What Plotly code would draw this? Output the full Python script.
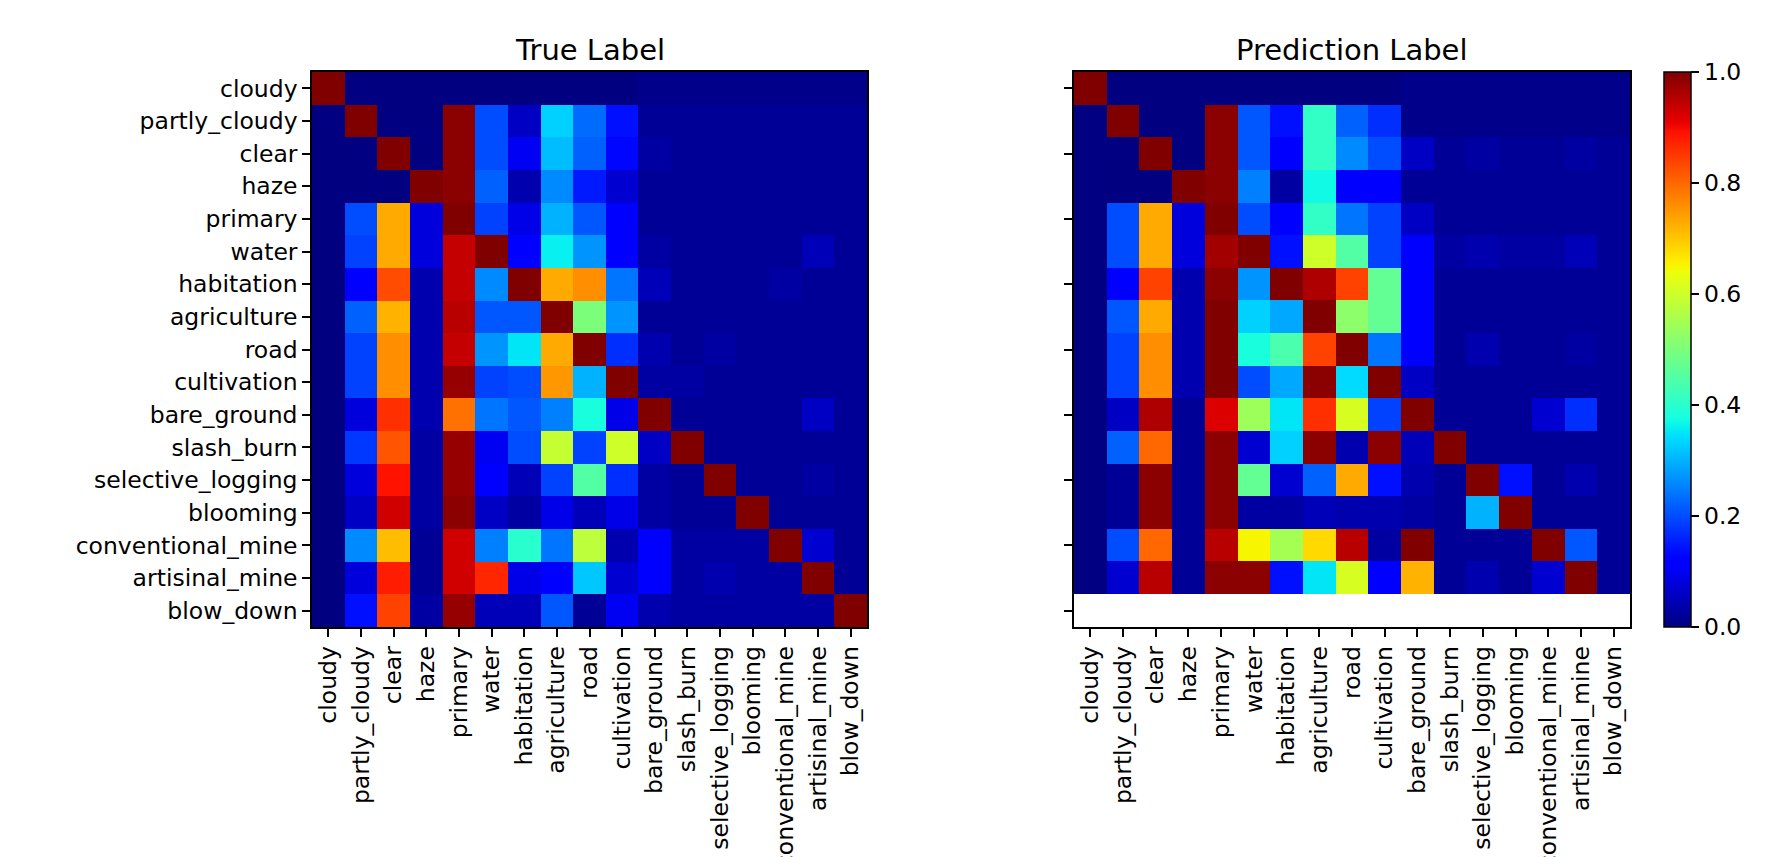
import numpy as np
import plotly.graph_objects as go

labels = ["cloudy", "partly_cloudy", "clear", "haze", "primary", "water", "habitation",
          "agriculture", "road", "cultivation", "bare_ground", "slash_burn",
          "selective_logging", "blooming", "conventional_mine", "artisinal_mine", "blow_down"]

# ---- True Label matrix (rows = labels, columns = labels) ----
true_cloudy            = [1.00, 0.00, 0.00, 0.00, 0.00, 0.00, 0.00, 0.00, 0.00, 0.00, 0.01, 0.01, 0.01, 0.01, 0.01, 0.01, 0.01]
true_partly_cloudy     = [0.00, 1.00, 0.00, 0.00, 0.99, 0.20, 0.06, 0.33, 0.23, 0.14, 0.02, 0.02, 0.02, 0.02, 0.02, 0.02, 0.02]
true_clear             = [0.00, 0.00, 1.00, 0.00, 0.99, 0.20, 0.10, 0.31, 0.22, 0.13, 0.03, 0.02, 0.02, 0.02, 0.02, 0.02, 0.02]
true_haze              = [0.00, 0.00, 0.00, 1.00, 0.99, 0.22, 0.04, 0.26, 0.15, 0.07, 0.02, 0.02, 0.02, 0.02, 0.02, 0.02, 0.02]
true_primary           = [0.00, 0.20, 0.73, 0.08, 1.00, 0.19, 0.09, 0.30, 0.21, 0.12, 0.02, 0.02, 0.02, 0.02, 0.02, 0.02, 0.02]
true_water             = [0.00, 0.19, 0.73, 0.08, 0.94, 1.00, 0.11, 0.36, 0.27, 0.12, 0.03, 0.02, 0.02, 0.02, 0.02, 0.05, 0.02]
true_habitation        = [0.00, 0.11, 0.83, 0.04, 0.94, 0.26, 1.00, 0.73, 0.76, 0.24, 0.05, 0.02, 0.02, 0.02, 0.03, 0.02, 0.02]
true_agriculture       = [0.00, 0.22, 0.72, 0.04, 0.95, 0.21, 0.21, 1.00, 0.50, 0.27, 0.02, 0.02, 0.02, 0.02, 0.02, 0.02, 0.02]
true_road              = [0.00, 0.19, 0.76, 0.04, 0.94, 0.27, 0.35, 0.73, 1.00, 0.17, 0.04, 0.02, 0.03, 0.02, 0.02, 0.02, 0.02]
true_cultivation       = [0.00, 0.19, 0.76, 0.04, 0.98, 0.19, 0.20, 0.75, 0.30, 1.00, 0.03, 0.03, 0.02, 0.02, 0.02, 0.02, 0.02]
true_bare_ground       = [0.00, 0.08, 0.86, 0.04, 0.79, 0.24, 0.21, 0.25, 0.38, 0.09, 1.00, 0.02, 0.02, 0.02, 0.02, 0.06, 0.02]
true_slash_burn        = [0.00, 0.18, 0.82, 0.03, 0.98, 0.10, 0.20, 0.59, 0.19, 0.60, 0.06, 1.00, 0.02, 0.02, 0.02, 0.02, 0.02]
true_selective_logging = [0.00, 0.08, 0.89, 0.03, 0.98, 0.11, 0.05, 0.19, 0.45, 0.17, 0.03, 0.02, 1.00, 0.02, 0.02, 0.03, 0.02]
true_blooming          = [0.00, 0.06, 0.93, 0.03, 0.99, 0.06, 0.03, 0.09, 0.05, 0.09, 0.03, 0.02, 0.02, 1.00, 0.02, 0.02, 0.02]
true_conventional_mine = [0.00, 0.26, 0.71, 0.02, 0.93, 0.25, 0.40, 0.24, 0.58, 0.04, 0.11, 0.03, 0.03, 0.03, 1.00, 0.07, 0.02]
true_artisinal_mine    = [0.00, 0.08, 0.88, 0.02, 0.93, 0.87, 0.09, 0.11, 0.32, 0.07, 0.11, 0.03, 0.04, 0.03, 0.03, 1.00, 0.02]
true_blow_down         = [0.00, 0.14, 0.84, 0.03, 0.98, 0.05, 0.05, 0.21, 0.02, 0.10, 0.04, 0.03, 0.03, 0.03, 0.03, 0.03, 1.00]

# ---- Prediction Label matrix (blow_down row has no predictions -> blank) ----
pred_cloudy            = [1.00, 0.00, 0.00, 0.00, 0.00, 0.00, 0.00, 0.00, 0.00, 0.00, 0.01, 0.01, 0.01, 0.01, 0.01, 0.01, 0.01]
pred_partly_cloudy     = [0.00, 1.00, 0.00, 0.00, 0.99, 0.21, 0.14, 0.41, 0.22, 0.17, 0.01, 0.01, 0.01, 0.01, 0.01, 0.01, 0.01]
pred_clear             = [0.00, 0.00, 1.00, 0.00, 0.99, 0.21, 0.12, 0.41, 0.26, 0.20, 0.06, 0.02, 0.03, 0.02, 0.02, 0.03, 0.02]
pred_haze              = [0.00, 0.00, 0.00, 1.00, 0.99, 0.25, 0.03, 0.37, 0.12, 0.11, 0.02, 0.02, 0.02, 0.02, 0.02, 0.02, 0.02]
pred_primary           = [0.00, 0.20, 0.73, 0.08, 1.00, 0.20, 0.11, 0.41, 0.24, 0.19, 0.06, 0.02, 0.02, 0.02, 0.02, 0.02, 0.02]
pred_water             = [0.00, 0.20, 0.73, 0.08, 0.97, 1.00, 0.14, 0.60, 0.45, 0.19, 0.11, 0.03, 0.04, 0.03, 0.03, 0.05, 0.02]
pred_habitation        = [0.00, 0.11, 0.84, 0.04, 0.99, 0.27, 1.00, 0.96, 0.84, 0.47, 0.11, 0.02, 0.02, 0.02, 0.02, 0.02, 0.02]
pred_agriculture       = [0.00, 0.21, 0.73, 0.04, 1.00, 0.33, 0.29, 1.00, 0.52, 0.47, 0.11, 0.02, 0.02, 0.02, 0.02, 0.02, 0.02]
pred_road              = [0.00, 0.19, 0.76, 0.04, 1.00, 0.38, 0.44, 0.84, 1.00, 0.24, 0.11, 0.02, 0.04, 0.02, 0.02, 0.03, 0.02]
pred_cultivation       = [0.00, 0.19, 0.76, 0.04, 1.00, 0.20, 0.29, 0.99, 0.34, 1.00, 0.06, 0.02, 0.02, 0.02, 0.02, 0.02, 0.02]
pred_bare_ground       = [0.00, 0.06, 0.96, 0.02, 0.92, 0.54, 0.35, 0.86, 0.61, 0.19, 1.00, 0.02, 0.02, 0.02, 0.07, 0.17, 0.02]
pred_slash_burn        = [0.00, 0.22, 0.80, 0.02, 0.99, 0.07, 0.33, 0.99, 0.04, 0.99, 0.05, 1.00, 0.02, 0.02, 0.02, 0.02, 0.02]
pred_selective_logging = [0.00, 0.02, 0.99, 0.02, 0.99, 0.47, 0.07, 0.22, 0.73, 0.14, 0.04, 0.02, 1.00, 0.14, 0.02, 0.04, 0.02]
pred_blooming          = [0.00, 0.02, 0.99, 0.02, 0.99, 0.03, 0.03, 0.05, 0.04, 0.04, 0.03, 0.02, 0.30, 1.00, 0.02, 0.02, 0.02]
pred_conventional_mine = [0.00, 0.20, 0.80, 0.02, 0.95, 0.65, 0.55, 0.68, 0.95, 0.03, 1.00, 0.02, 0.02, 0.02, 1.00, 0.21, 0.02]
pred_artisinal_mine    = [0.00, 0.07, 0.95, 0.02, 0.99, 0.99, 0.14, 0.35, 0.61, 0.12, 0.72, 0.02, 0.04, 0.02, 0.07, 1.00, 0.02]

true_z = [true_cloudy, true_partly_cloudy, true_clear, true_haze, true_primary, true_water,
          true_habitation, true_agriculture, true_road, true_cultivation, true_bare_ground,
          true_slash_burn, true_selective_logging, true_blooming, true_conventional_mine,
          true_artisinal_mine, true_blow_down]
pred_z = [pred_cloudy, pred_partly_cloudy, pred_clear, pred_haze, pred_primary, pred_water,
          pred_habitation, pred_agriculture, pred_road, pred_cultivation, pred_bare_ground,
          pred_slash_burn, pred_selective_logging, pred_blooming, pred_conventional_mine,
          pred_artisinal_mine]

colorbar_ticks = [0.0, 0.2, 0.4, 0.6, 0.8, 1.0]

# matplotlib 'jet' colormap as a plotly colorscale
_jet = {
    "r": [(0, 0), (0.35, 0), (0.66, 1), (0.89, 1), (1, 0.5)],
    "g": [(0, 0), (0.125, 0), (0.375, 1), (0.64, 1), (0.91, 0), (1, 0)],
    "b": [(0, 0.5), (0.11, 1), (0.34, 1), (0.65, 0), (1, 0)],
}
_s = np.linspace(0, 1, 101)
_ch = {k: np.interp(_s, [p[0] for p in v], [p[1] for p in v]) for k, v in _jet.items()}
jet = [[float(s), "rgb(%d,%d,%d)" % (round(_ch["r"][i] * 255), round(_ch["g"][i] * 255), round(_ch["b"][i] * 255))]
       for i, s in enumerate(_s)]

W, H = 1765, 857
FONT = "DejaVu Sans"
TICK = 23.5
idx = list(range(len(labels)))

fig = go.Figure()
fig.add_trace(go.Heatmap(z=true_z, x=idx, y=idx, colorscale=jet, zmin=0, zmax=1,
                         showscale=False, xaxis="x", yaxis="y"))
fig.add_trace(go.Heatmap(z=pred_z, x=idx, y=idx[:len(pred_z)], colorscale=jet, zmin=0, zmax=1,
                         xaxis="x2", yaxis="y2",
                         colorbar=dict(x=1656 / W, xanchor="left", y=1 - 64 / H, yanchor="top",
                                       len=555 / H, lenmode="fraction", thickness=27,
                                       xpad=0, ypad=0, outlinewidth=1.5, outlinecolor="black",
                                       tickvals=colorbar_ticks, tickformat=".1f",
                                       ticks="outside", ticklen=8, tickwidth=1.5, tickcolor="black",
                                       tickfont=dict(family=FONT, size=TICK, color="black"))))

y0, y1 = 1 - 619 / H, 1 - 64 / H
axis_common = dict(showline=True, mirror=True, linecolor="black", linewidth=1.5,
                   ticks="outside", ticklen=8, tickwidth=1.5, tickcolor="black",
                   showgrid=False, zeroline=False, automargin=False,
                   tickfont=dict(family=FONT, size=TICK, color="black"))

fig.update_layout(
    width=W, height=H,
    margin=dict(l=0, r=0, t=0, b=0),
    paper_bgcolor="white", plot_bgcolor="white",
    font=dict(family=FONT, color="black"),
    xaxis=dict(domain=[304 / W, 859 / W], range=[-0.5, 16.5], anchor="y",
               tickmode="array", tickvals=idx, ticktext=labels, tickangle=-90, **axis_common),
    yaxis=dict(domain=[y0, y1], range=[16.5, -0.5], anchor="x",
               tickmode="array", tickvals=idx, ticktext=labels, **axis_common),
    xaxis2=dict(domain=[1066 / W, 1622 / W], range=[-0.5, 16.5], anchor="y2",
                tickmode="array", tickvals=idx, ticktext=labels, tickangle=-90, **axis_common),
    yaxis2=dict(domain=[y0, y1], range=[16.5, -0.5], anchor="x2",
                tickmode="array", tickvals=idx[::2], showticklabels=False, **axis_common),
    annotations=[
        dict(text="True Label", x=(304 + 859) / 2 / W, y=1 - 41.5 / H, xref="paper", yref="paper",
             xanchor="center", yanchor="middle", showarrow=False,
             font=dict(family=FONT, size=29, color="black")),
        dict(text="Prediction Label", x=(1066 + 1622) / 2 / W, y=1 - 41.5 / H, xref="paper", yref="paper",
             xanchor="center", yanchor="middle", showarrow=False,
             font=dict(family=FONT, size=29, color="black")),
    ],
)

fig.write_html("out.html")
